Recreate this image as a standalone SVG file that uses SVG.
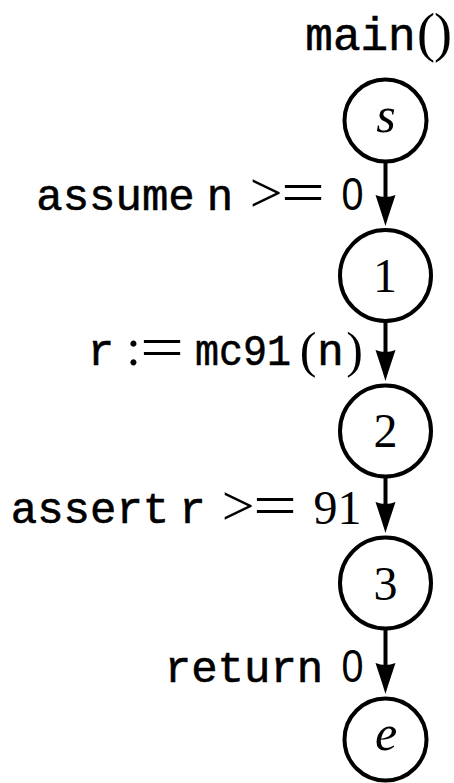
<svg xmlns="http://www.w3.org/2000/svg" width="454" height="783" viewBox="0 0 454 783">
<style>
.bg{fill:#fff}
.node{fill:#fff;stroke:#000;stroke-width:4}
.edge{stroke:#000;stroke-width:4;fill:none}
.tt{font-family:"Liberation Mono","DejaVu Sans Mono",monospace;font-size:44px;fill:#000;stroke:#000;stroke-width:0.6;text-anchor:middle}
.zero{font-family:"Liberation Sans","DejaVu Sans",sans-serif;font-size:46px;fill:#000;text-anchor:middle}
.rm{font-family:"Liberation Serif","DejaVu Serif",serif;fill:#000;text-anchor:middle}
.it{font-family:"Liberation Serif","DejaVu Serif",serif;font-style:italic;fill:#000;text-anchor:middle;font-size:50px}
.num{font-family:"Liberation Serif","DejaVu Serif",serif;fill:#000;text-anchor:middle;font-size:48px}
</style>
<defs>
<marker id="arrow" markerUnits="userSpaceOnUse" markerWidth="34" markerHeight="24" refX="15" refY="10" orient="auto" overflow="visible">
<path d="M31,10 C24,8 12,4 0,0 Q4,10 0,20 C12,16 24,12 31,10 Z" fill="#000"/>
</marker>
</defs>
<rect class="bg" x="0" y="0" width="454" height="783"/>

<g id="title">
<text class="tt" x="360.5" y="50" style="font-size:46px">main</text>
<text class="rm" x="426" y="51" style="font-size:54px">(</text>
<text class="rm" x="443" y="51" style="font-size:54px">)</text>
</g>

<g id="edges">
<g id="edge-s-1">
<line class="edge" x1="385.5" y1="163" x2="385.5" y2="210" marker-end="url(#arrow)"/>
<text class="tt" x="115.5" y="210">assume</text>
<text class="tt" x="220" y="210">n</text>
<text class="rm" x="266" y="212" style="font-size:58px">&gt;</text>
<text class="rm" x="303" y="213" style="font-size:62px" textLength="44" lengthAdjust="spacingAndGlyphs">=</text>
<text class="zero" x="352.5" y="210" textLength="22" lengthAdjust="spacingAndGlyphs">0</text>
</g>
<g id="edge-1-2">
<line class="edge" x1="385.5" y1="322" x2="385.5" y2="365" marker-end="url(#arrow)"/>
<text class="tt" x="101" y="365">r</text>
<text class="rm" x="133.5" y="365" style="font-size:52px">:</text>
<text class="rm" x="162" y="368" style="font-size:62px" textLength="44" lengthAdjust="spacingAndGlyphs">=</text>
<text class="tt" x="243" y="365" textLength="96" lengthAdjust="spacingAndGlyphs">mc91</text>
<text class="rm" x="308" y="367" style="font-size:50px">(</text>
<text class="tt" x="330.5" y="365">n</text>
<text class="rm" x="354.5" y="367" style="font-size:50px">)</text>
</g>
<g id="edge-2-3">
<line class="edge" x1="385.5" y1="478" x2="385.5" y2="517" marker-end="url(#arrow)"/>
<text class="tt" x="90" y="523">assert</text>
<text class="tt" x="192.5" y="523">r</text>
<text class="rm" x="238" y="525" style="font-size:58px">&gt;</text>
<text class="rm" x="275" y="526" style="font-size:62px" textLength="44" lengthAdjust="spacingAndGlyphs">=</text>
<text class="rm" x="337.5" y="524" style="font-size:48px">91</text>
</g>
<g id="edge-3-e">
<line class="edge" x1="385.5" y1="630" x2="385.5" y2="678" marker-end="url(#arrow)"/>
<text class="tt" x="244" y="682">return</text>
<text class="zero" x="352.5" y="682" textLength="22" lengthAdjust="spacingAndGlyphs">0</text>
</g>
</g>

<g id="node-s">
<circle class="node" cx="385.5" cy="120.5" r="41"/>
<text class="it" x="386" y="132">s</text>
</g>
<g id="node-1">
<circle class="node" cx="385.5" cy="275.5" r="45.5"/>
<text class="num" x="385" y="292">1</text>
</g>
<g id="node-2">
<circle class="node" cx="385.5" cy="431" r="45.5"/>
<text class="num" x="385.5" y="447">2</text>
</g>
<g id="node-3">
<circle class="node" cx="385.5" cy="583" r="45.5"/>
<text class="num" x="385.5" y="600">3</text>
</g>
<g id="node-e">
<circle class="node" cx="385.5" cy="739.5" r="41"/>
<text class="it" x="386" y="750">e</text>
</g>
</svg>
